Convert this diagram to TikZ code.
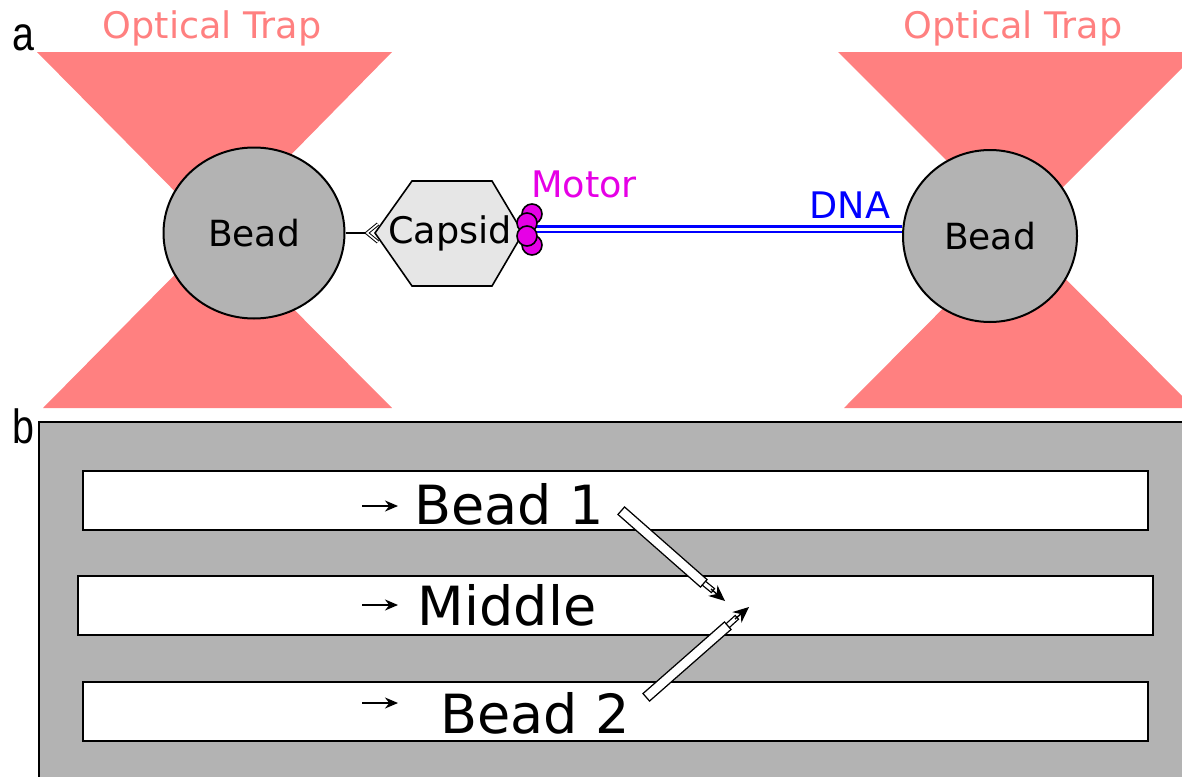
\documentclass[tikz,border=0pt]{standalone}
\usepackage{fontspec}
\setmainfont{DejaVu Sans}
\newfontfamily\panelfont{Liberation Sans}
\usetikzlibrary{shapes.geometric,arrows.meta}

\definecolor{trapred}{RGB}{255,128,128}
\definecolor{beadgray}{RGB}{179,179,179}
\definecolor{capsidgray}{RGB}{230,230,230}
\definecolor{motorpink}{RGB}{230,0,230}

\tikzset{
  trap/.style={fill=trapred},
  bead/.style={ellipse, draw, line width=1pt, fill=beadgray, inner sep=0pt,
    font=\fontsize{18}{21}\selectfont},
  lbl/.style={anchor=base, inner sep=0pt, font=\fontsize{18.3}{21}\selectfont},
  big/.style={anchor=base, inner sep=0pt, font=\fontsize{27}{32}\selectfont},
  panel/.style={anchor=base west, inner sep=0pt, font=\panelfont\fontsize{24}{28}\selectfont},
  capsid/.style={draw, line width=0.8pt, fill=capsidgray, line join=miter},
  tether/.style={line width=0.8pt},
  chevron/.style={draw, line width=0.5pt, double=white, double distance=0.8pt, line join=miter},
  motor/.style={draw, line width=0.8pt, fill=motorpink},
  dna/.style={draw=blue, line width=1.1pt, double=white, double distance=1.5pt},
  channel/.style={draw, line width=1.4pt, fill=white},
  flow/.style={line width=0.85pt, -{Stealth[length=6.5pt,width=5.5pt]}},
  pipette/.style={draw, line width=0.7pt, double=white, double distance=4.2pt, line cap=rect},
  nozzle/.style={draw, line width=0.65pt, double=white, double distance=1.8pt, line cap=rect},
  pipetip/.style={line width=0.7pt, -{Stealth[length=8pt,width=7pt]}},
}

\begin{document}
\begin{tikzpicture}[x=0.5pt,y=-0.5pt]
  \useasboundingbox (0,0) rectangle (1182,776);
  \clip (0,0) rectangle (1182,776);

  % panel a: the two traps
  \fill[trap] (37,52) -- (392,52) -- (215,232) -- cycle;
  \fill[trap] (43,408) -- (392,408) -- (217,232) -- cycle;
  \fill[trap] (838,52) -- (1198,52) -- (1018,232) -- cycle;
  \fill[trap] (844,408) -- (1194,408) -- (1019,232) -- cycle;
  \node[lbl, text=trapred] (trapL) at (212,39) {Optical Trap};
  \node[lbl, text=trapred] (trapR) at (1013,39) {Optical Trap};

  \node[bead, minimum width=90.5pt, minimum height=85.5pt] (lbead) at (254,233) {Bead};
  \node[bead, minimum width=87pt, minimum height=86pt] (rbead) at (990,236) {Bead};

  % capsid with its motor
  \coordinate (capL) at (375,233);
  \coordinate (capR) at (523,233);
  \draw[capsid] (capL) -- (412,181) -- (492,181) -- (capR) -- (492,286) -- (412,286) -- cycle;
  \node[lbl] (capsid) at (450,243) {Capsid};
  \draw[tether] (lbead.east) -- ++(23,0);
  \draw[chevron] (capL) ++(3,-9) -- ++(-11,9) -- ++(11,9);

  \coordinate (dnaL) at (535,229);
  \draw[dna] (dnaL) -- (dnaL -| rbead.west);
  \foreach \p in {(532,214),(532,245),(527,223),(527,236)}
    \draw[motor] \p circle [radius=5pt];
  \node[lbl, text=motorpink] (motorlbl) at (584,197) {Motor};
  \node[lbl, text=blue] (dnalbl) at (850,218) {DNA};

  \node[panel] (pa) at (12,50) {\scalebox{0.82}[1]{a}};

  % panel b: flow cell
  \node[panel] (pb) at (12,443) {\scalebox{0.82}[1]{b}};
  \draw[line width=1.4pt, fill=beadgray] (39,422) rectangle (1200,800);
  \draw[channel] (83,471) rectangle (1148,530);
  \draw[channel] (78,576) rectangle (1153,635);
  \draw[channel] (83,682) rectangle (1148,741);

  \node[big] (bead1) at (509,524) {Bead 1};
  \node[big] (middle) at (507,625) {Middle};
  \node[big] (bead2) at (535,733) {Bead 2};

  \coordinate (f1) at (362,506);
  \coordinate (f2) at (362,605);
  \coordinate (f3) at (362,703);
  \foreach \f in {f1,f2,f3}
    \draw[flow] (\f) -- ++(36,0);

  % pipettes
  \coordinate (p1a) at (625,514);
  \coordinate (p1b) at (700,580);
  \coordinate (p1c) at (711,589);
  \coordinate (p1d) at (725,601);
  \draw[nozzle] (p1b) -- (p1c);
  \draw[pipette] (p1a) -- (p1b);
  \draw[pipetip] (p1c) -- (p1d);

  \coordinate (p2a) at (650,694);
  \coordinate (p2b) at (724,629);
  \coordinate (p2c) at (735,619);
  \coordinate (p2d) at (749,607);
  \draw[nozzle] (p2b) -- (p2c);
  \draw[pipette] (p2a) -- (p2b);
  \draw[pipetip] (p2c) -- (p2d);
\end{tikzpicture}
\end{document}
